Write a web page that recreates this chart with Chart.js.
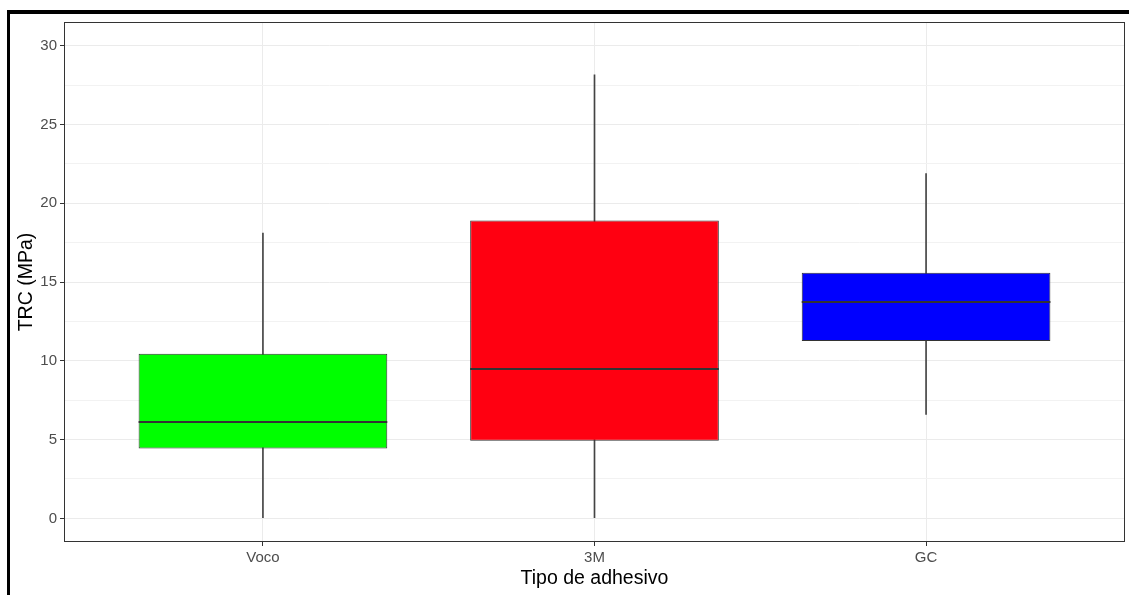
<!DOCTYPE html>
<html>
<head>
<meta charset="utf-8">
<script src="https://cdn.jsdelivr.net/npm/chart.js@4.4.0/dist/chart.umd.min.js"></script>
<style>
  html, body { margin: 0; padding: 0; background: #fff; }
  #wrap { position: relative; width: 1129px; height: 595px; overflow: hidden; }
  #frame { position: absolute; left: 7px; top: 10px; right: 0; bottom: 0;
           border-top: 4px solid #000; border-left: 3px solid #000; }
  canvas { position: absolute; left: 0; top: 0; }
</style>
</head>
<body>
<div id="wrap">
  <div id="frame"></div>
  <canvas id="c" width="1129" height="595"></canvas>
</div>
<script>
// Adhesive types and their five-number summaries (MPa)
const categories     = ['Voco', '3M', 'GC'];
const whiskerLow     = [0.05, 0.05, 6.6];
const lowerQuartile  = [4.43, 4.93, 11.26];
const medianValue    = [6.1, 9.5, 13.7];
const upperQuartile  = [10.45, 18.9, 15.58];
const whiskerHigh    = [18.1, 28.15, 21.88];
const boxColors      = ['#00FF00', '#FF0011', '#0000FF'];
const yTickValues    = [0, 2.5, 5, 7.5, 10, 12.5, 15, 17.5, 20, 22.5, 25, 27.5, 30];
const xTickPositions = [1, 2, 3];

const isMajor = v => Math.abs(v % 5) < 1e-9;

const boxData = categories.map((c, i) => ({ x: i + 1, y: [lowerQuartile[i], upperQuartile[i]] }));
const whiskerData = categories.map((c, i) => ({ x: i + 1, y: [whiskerLow[i], whiskerHigh[i]] }));

// median bars and the panel outline
const boxExtras = {
  id: 'boxExtras',
  afterDatasetsDraw(chart) {
    const ctx = chart.ctx;
    const meta = chart.getDatasetMeta(0);
    const y = chart.scales.y;
    ctx.save();
    ctx.strokeStyle = '#333333';
    ctx.lineWidth = 2;
    meta.data.forEach((bar, i) => {
      const py = Math.round(y.getPixelForValue(medianValue[i]));
      ctx.beginPath();
      ctx.moveTo(bar.x - bar.width / 2, py);
      ctx.lineTo(bar.x + bar.width / 2, py);
      ctx.stroke();
    });
    ctx.restore();
  },
  afterDraw(chart) {
    const a = chart.chartArea;
    const ctx = chart.ctx;
    ctx.save();
    ctx.strokeStyle = '#333333';
    ctx.lineWidth = 1;
    ctx.strokeRect(Math.round(a.left) + 0.5, Math.round(a.top) + 0.5,
                   Math.round(a.right - a.left) - 1, Math.round(a.bottom - a.top) - 1);
    ctx.restore();
  }
};

new Chart(document.getElementById('c'), {
  type: 'bar',
  data: {
    datasets: [
      {
        label: 'box',
        data: boxData,
        backgroundColor: boxColors,
        borderColor: '#333333',
        borderWidth: 1,
        borderSkipped: false,
        grouped: false,
        barPercentage: 0.75,
        categoryPercentage: 1
      },
      {
        label: 'whisker',
        data: whiskerData,
        backgroundColor: '#444444',
        borderWidth: 0,
        grouped: false,
        barThickness: 1
      }
    ]
  },
  options: {
    responsive: false,
    animation: false,
    devicePixelRatio: 1,
    layout: { padding: { top: 22, right: 4, bottom: 0, left: 0 } },
    plugins: { legend: { display: false }, tooltip: { enabled: false } },
    scales: {
      x: {
        type: 'linear',
        min: 0.4,
        max: 3.6,
        offset: false,
        afterBuildTicks: s => { s.ticks = xTickPositions.map(v => ({ value: v })); },
        afterFit: s => { s.height = 53; },
        ticks: {
          callback: v => categories[Math.round(v) - 1] ?? '',
          color: '#4D4D4D',
          font: { family: 'Liberation Sans, Arial, sans-serif', size: 15 },
          padding: 3,
          maxRotation: 0,
          autoSkip: false
        },
        grid: {
          offset: false,
          color: '#EBEBEB',
          lineWidth: 1,
          tickColor: '#333333',
          tickLength: 4,
          drawOnChartArea: true
        },
        border: { display: false },
        title: {
          display: true,
          text: 'Tipo de adhesivo',
          color: '#000000',
          font: { family: 'Liberation Sans, Arial, sans-serif', size: 19.5, lineHeight: 1.2 },
          padding: { top: 0, bottom: 5 }
        }
      },
      y: {
        type: 'linear',
        min: -1.5,
        max: 31.5,
        afterBuildTicks: s => { s.ticks = yTickValues.map(v => ({ value: v })); },
        afterFit: s => { s.width = 64; },
        ticks: {
          callback: v => isMajor(v) ? String(v) : '',
          color: '#4D4D4D',
          font: { family: 'Liberation Sans, Arial, sans-serif', size: 15 },
          padding: 3,
          autoSkip: false
        },
        grid: {
          color: c => isMajor(c.tick.value) ? '#EBEBEB' : '#F2F2F2',
          lineWidth: 1,
          tickColor: c => isMajor(c.tick.value) ? '#333333' : 'rgba(0,0,0,0)',
          tickLength: 4
        },
        border: { display: false },
        title: {
          display: true,
          text: 'TRC (MPa)',
          color: '#000000',
          font: { family: 'Liberation Sans, Arial, sans-serif', size: 19.5, lineHeight: 1.2 },
          padding: { top: 15, bottom: 0 }
        }
      }
    }
  },
  plugins: [boxExtras]
});
</script>
</body>
</html>
